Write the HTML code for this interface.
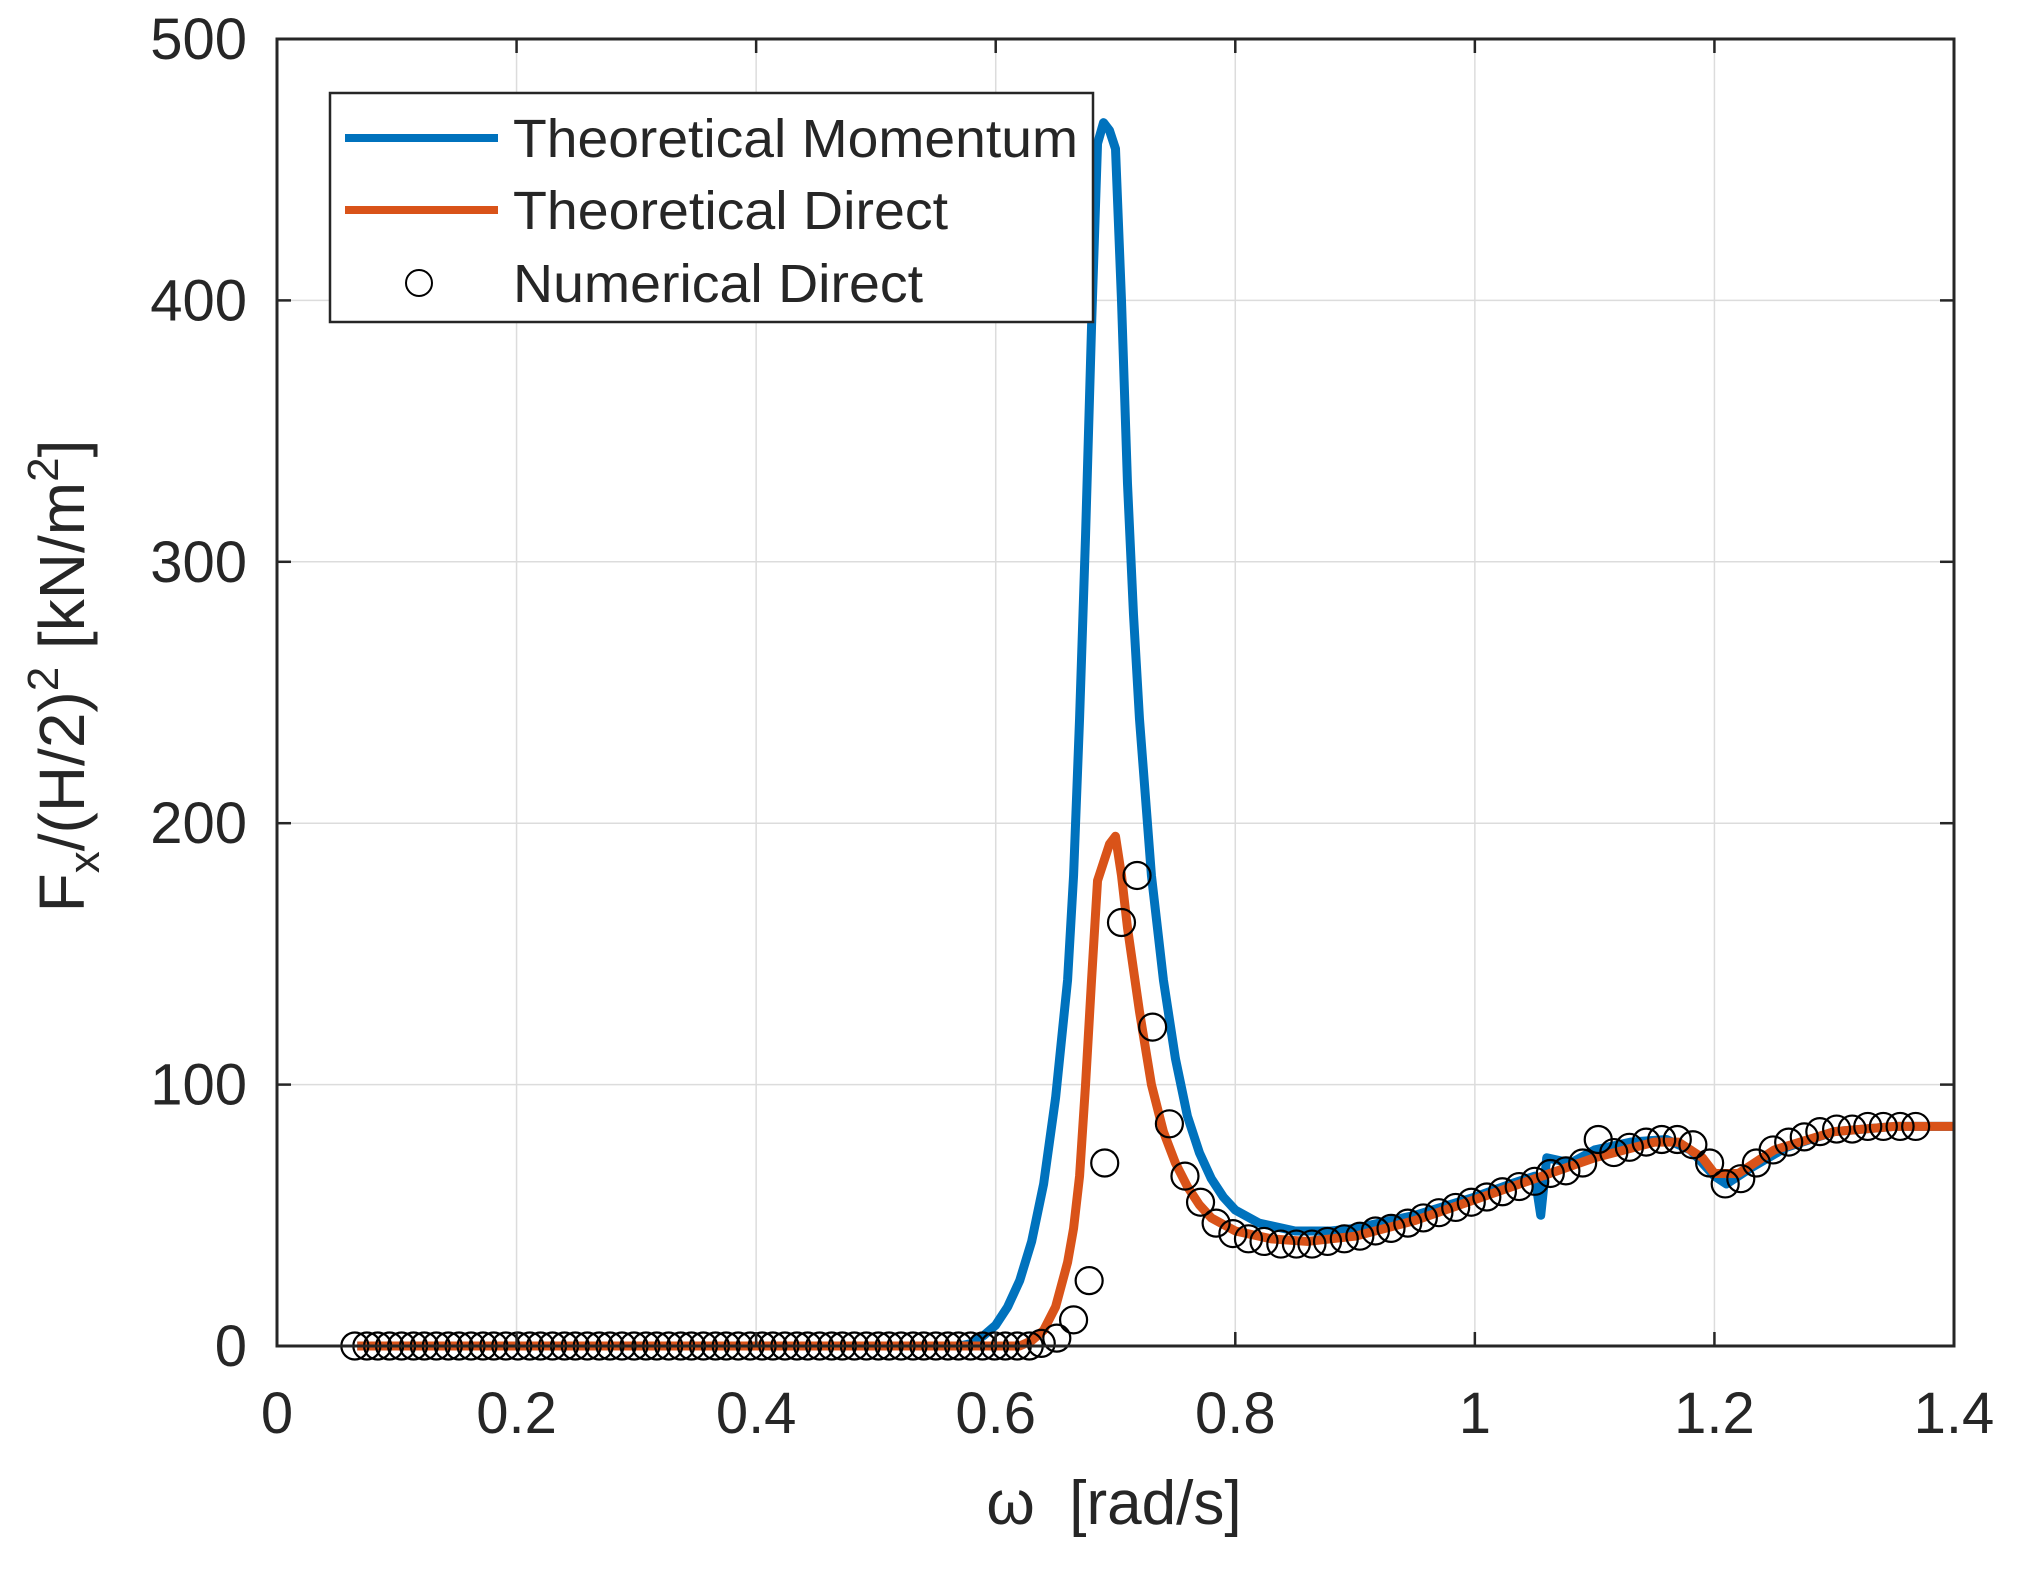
<!DOCTYPE html>
<html><head><meta charset="utf-8"><style>
html,body{margin:0;padding:0;background:#fff}
svg text{font-family:"Liberation Sans",Arial,sans-serif;fill:#262626}
</style></head><body>
<svg id="chart" width="2020" height="1568" viewBox="0 0 2020 1568" xmlns="http://www.w3.org/2000/svg">
<rect width="2020" height="1568" fill="#fff"/>
<g id="grid"></g>
<g id="series"></g>
<g id="axes"></g>
<text x="1114" y="1524" font-size="62" text-anchor="middle">ω&#160;&#160;[rad/s]</text>
<text transform="translate(84,676) rotate(-90)" font-size="64" text-anchor="middle">F<tspan font-size="44" dy="15">x</tspan><tspan dy="-15">/(H/2)</tspan><tspan font-size="44" dy="-26">2</tspan><tspan dy="26"> [kN/m</tspan><tspan font-size="44" dy="-26">2</tspan><tspan dy="26">]</tspan></text>
<g>
<rect x="330" y="93" width="763" height="229" fill="#fff" stroke="#262626" stroke-width="2.5"/>
<line x1="345" y1="138" x2="498" y2="138" stroke="#0072BD" stroke-width="8"/>
<text x="513" y="157" font-size="54" textLength="565" lengthAdjust="spacingAndGlyphs">Theoretical Momentum</text>
<line x1="345" y1="210" x2="498" y2="210" stroke="#D95319" stroke-width="8"/>
<text x="513" y="229" font-size="54" textLength="435" lengthAdjust="spacingAndGlyphs">Theoretical Direct</text>
<circle cx="419" cy="283" r="13" fill="none" stroke="#000" stroke-width="2"/>
<text x="513" y="302" font-size="54" textLength="410" lengthAdjust="spacingAndGlyphs">Numerical Direct</text>
</g>
</svg>
<script>
const xTicks=[0,0.2,0.4,0.6,0.8,1,1.2,1.4];
const xTickLabels=["0","0.2","0.4","0.6","0.8","1","1.2","1.4"];
const yTicks=[0,100,200,300,400,500];
const yTickLabels=["0","100","200","300","400","500"];
const momX=[0.067,0.2,0.4,0.57,0.58,0.59,0.60,0.61,0.62,0.63,0.64,0.65,0.66,0.665,0.67,0.675,0.68,0.685,0.69,0.695,0.70,0.705,0.71,0.715,0.72,0.73,0.74,0.75,0.76,0.77,0.78,0.79,0.80,0.82,0.85,0.88,0.9,0.95,1.0,1.03,1.05,1.055,1.06,1.08,1.1,1.13,1.16,1.18,1.2,1.21,1.23,1.26,1.3,1.35,1.4];
const momY=[0,0,0,0,1,4,8,15,25,40,62,95,140,180,240,310,390,460,468,465,458,400,330,280,240,180,140,110,88,74,64,57,52,47,44,44,45,50,57,62,65,50,72,70,75,78,79,75,65,62,68,76,82,84,84];
const dirX=[0.067,0.2,0.4,0.62,0.63,0.64,0.65,0.66,0.665,0.67,0.675,0.68,0.685,0.69,0.695,0.70,0.705,0.71,0.72,0.73,0.74,0.75,0.76,0.77,0.78,0.80,0.83,0.86,0.9,0.95,1.0,1.05,1.1,1.15,1.17,1.19,1.2,1.22,1.25,1.3,1.35,1.4];
const dirY=[0,0,0,0,2,6,15,32,45,65,100,140,178,185,192,195,180,160,128,100,82,70,61,54,49,44,41,40,42,48,56,64,72,78,78,72,66,66,75,82,84,84];
const numX=[0.065,0.075,0.084,0.094,0.104,0.114,0.123,0.133,0.143,0.152,0.162,0.172,0.181,0.191,0.201,0.211,0.220,0.230,0.240,0.249,0.259,0.269,0.278,0.288,0.298,0.308,0.317,0.327,0.337,0.346,0.356,0.366,0.375,0.385,0.395,0.405,0.414,0.424,0.434,0.443,0.453,0.463,0.472,0.482,0.492,0.502,0.511,0.521,0.531,0.540,0.550,0.560,0.569,0.579,0.589,0.599,0.608,0.618,0.628,0.638,0.651,0.665,0.678,0.691,0.705,0.718,0.731,0.745,0.758,0.771,0.784,0.798,0.811,0.824,0.838,0.851,0.864,0.877,0.891,0.904,0.917,0.930,0.944,0.957,0.970,0.984,0.997,1.010,1.023,1.037,1.050,1.063,1.076,1.090,1.103,1.116,1.129,1.143,1.156,1.169,1.182,1.196,1.209,1.222,1.235,1.249,1.262,1.275,1.288,1.302,1.315,1.328,1.341,1.355,1.368];
const numY=[0,0,0,0,0,0,0,0,0,0,0,0,0,0,0,0,0,0,0,0,0,0,0,0,0,0,0,0,0,0,0,0,0,0,0,0,0,0,0,0,0,0,0,0,0,0,0,0,0,0,0,0,0,0,0,0,0,0,0,1,3,10,25,70,162,180,122,85,65,55,47,43,41,40,39,39,39,40,41,42,44,45,47,49,51,53,55,57,59,61,63,66,67,70,79,74,76,78,79,79,77,70,62,64,70,75,78,80,82,83,83,84,84,84,84];
const L=277,R=1954,T=39,B=1346;
const sx=v=>L+(v-0)/1.4*(R-L);
const sy=v=>B-(v-0)/500*(B-T);
const NS="http://www.w3.org/2000/svg";
function mk(tag,attrs,parent){const e=document.createElementNS(NS,tag);for(const k in attrs)e.setAttribute(k,attrs[k]);parent.appendChild(e);return e;}
const grid=document.getElementById('grid'),axes=document.getElementById('axes'),ser=document.getElementById('series');
xTicks.forEach((t,i)=>{
 const g=mk('line',{x1:sx(t),x2:sx(t),y1:T,y2:B,stroke:'#dcdcdc','stroke-width':1.5},grid);
 
 
 const tk=mk('line',{x1:sx(t),x2:sx(t),y1:B,y2:B-14,stroke:'#262626','stroke-width':2.5},axes);
 
 
 const tk2=mk('line',{x1:sx(t),x2:sx(t),y1:T,y2:T+14,stroke:'#262626','stroke-width':2.5},axes);
 
 
 const lb=mk('text',{x:sx(t),y:1433,'font-size':58,'text-anchor':'middle'},axes);
 lb.textContent=xTickLabels[i];
 
 
});
yTicks.forEach((t,i)=>{
 const g=mk('line',{x1:L,x2:R,y1:sy(t),y2:sy(t),stroke:'#dcdcdc','stroke-width':1.5},grid);
 
 
 const tk=mk('line',{x1:L,x2:L+14,y1:sy(t),y2:sy(t),stroke:'#262626','stroke-width':2.5},axes);
 
 
 const tk2=mk('line',{x1:R,x2:R-14,y1:sy(t),y2:sy(t),stroke:'#262626','stroke-width':2.5},axes);
 
 
 const lb=mk('text',{x:247,y:sy(t)+20,'font-size':58,'text-anchor':'end'},axes);
 lb.textContent=yTickLabels[i];
 
 
});
const box=mk('rect',{x:L,y:T,width:R-L,height:B-T,fill:'none',stroke:'#262626','stroke-width':3},axes);


const pm=mk('polyline',{points:momX.map((x,i)=>sx(x)+','+sy(momY[i])).join(' '),fill:'none',stroke:'#0072BD','stroke-width':9,'stroke-linejoin':'round'},ser);


const pd=mk('polyline',{points:dirX.map((x,i)=>sx(x)+','+sy(dirY[i])).join(' '),fill:'none',stroke:'#D95319','stroke-width':9,'stroke-linejoin':'round'},ser);


numY.forEach((v,i)=>{
 const c=mk('circle',{cx:sx(numX[i]),cy:sy(v),r:13.5,fill:'none',stroke:'#000','stroke-width':2.2},ser);
 
 
});
</script>
</body></html>
